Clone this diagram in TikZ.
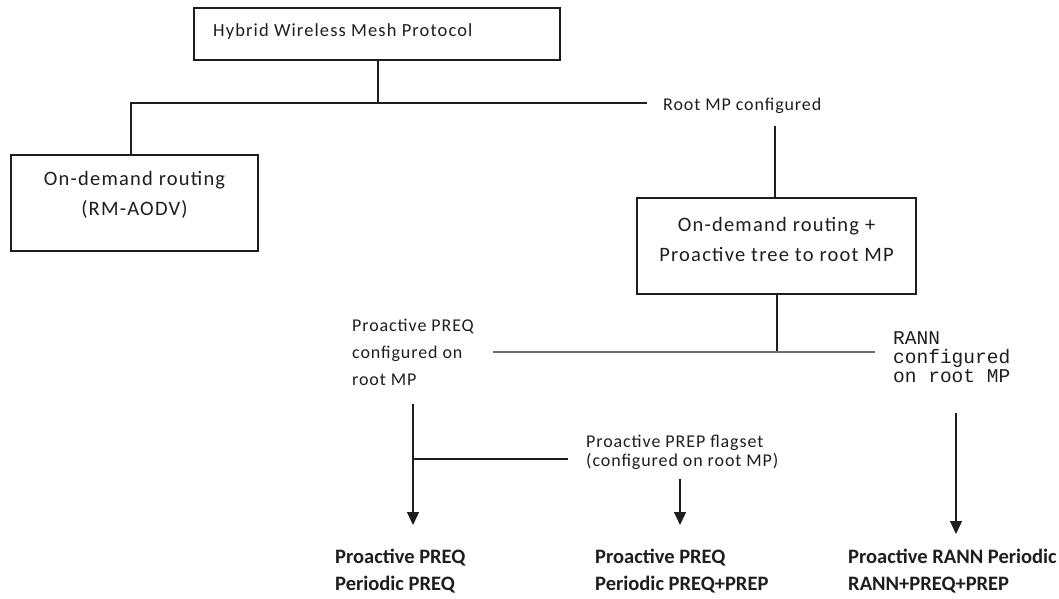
\documentclass[tikz,border=0pt]{standalone}
\usepackage{fontspec}
\setmainfont{Carlito}
\newfontfamily\boxfont[LetterSpace=6]{Carlito}
\newfontfamily\lblfont[LetterSpace=5]{Carlito}
\newfontfamily\codefont{Liberation Mono}
\usetikzlibrary{arrows.meta}
\definecolor{ink}{HTML}{1E1E1E}
\definecolor{busgray}{HTML}{6E6E6E}
\tikzset{
  frame/.style={draw=ink, line width=1.4pt, fill=white, inner sep=0pt},
  boxtext/.style={inner sep=0pt, align=center, font=\boxfont\fontsize{20.5}{30}\selectfont, text=ink},
  smalltext/.style={inner sep=0pt, align=left, font=\lblfont\fontsize{18}{27}\selectfont, text=ink},
  codetext/.style={inner sep=0pt, align=left, font=\codefont\fontsize{19.5}{19}\selectfont, text=ink},
  resulttext/.style={inner sep=0pt, align=left, font=\bfseries\fontsize{20.5}{27}\selectfont, text=ink},
  wire/.style={draw=ink, line width=1.3pt},
  bus/.style={draw=busgray, line width=2.4pt},
  arr/.style={draw=ink, line width=1.3pt, -{Triangle[length=13pt,width=12pt]}}
}
\begin{document}
\begin{tikzpicture}[x=1pt,y=-1pt]
\useasboundingbox (0,0) rectangle (1059,599);

% boxes
\node[frame, minimum width=366pt, minimum height=52pt] (hwmp) at (377,34) {};
\node[frame, minimum width=247pt, minimum height=96pt] (ondemand) at (134.5,203) {};
\node[frame, minimum width=279pt, minimum height=96pt] (proactive) at (776.5,246) {};

% box texts
\node[boxtext, anchor=west, font=\boxfont\fontsize{18.5}{30}\selectfont] (hwmptxt) at (213,32) {Hybrid Wireless Mesh Protocol};
\node[boxtext] (ondemandtxt) at (134.5,195) {On-demand routing\\(RM-AODV)};
\node[boxtext] (proactivetxt) at (776.5,239) {On-demand routing +\\Proactive tree to root MP};

% condition labels
\node[smalltext, anchor=west] (rootcfg) at (663,106) {Root MP configured};
\node[smalltext, anchor=west] (preqcfg) at (352,352) {Proactive PREQ\\configured on\\root MP};
\node[codetext, anchor=west] (ranncfg) at (893,357) {RANN\\configured\\on root MP};
\node[smalltext, anchor=west, font=\lblfont\fontsize{18}{19}\selectfont] (prepcfg) at (586,452.5) {Proactive PREP flagset\\(configured on root MP)};

% resulting modes
\node[resulttext, anchor=west] (res1) at (335,571) {Proactive PREQ\\Periodic PREQ};
\node[resulttext, anchor=west] (res2) at (595,571) {Proactive PREQ\\Periodic PREQ+PREP};
\node[resulttext, anchor=west] (res3) at (848,571) {Proactive RANN Periodic\\RANN+PREQ+PREP};

% junction points
\coordinate (split1) at (378,103);
\coordinate (split1end) at (647,103);
\coordinate (rootdrop) at (775,126);
\coordinate (split2) at (777,352);
\coordinate (bus2left) at (493,352);
\coordinate (bus2right) at (875,352);
\coordinate (preqtop) at (413,404);
\coordinate (preqtip) at (413,525);
\coordinate (prepjoin) at (413,459);
\coordinate (prepend) at (568,459);
\coordinate (preptop) at (680,479);
\coordinate (preptip) at (680,525);
\coordinate (ranntop) at (956,413);
\coordinate (ranntip) at (956,534);

% first split
\draw[wire] (hwmp.south -| split1) -- (split1);
\draw[wire] (ondemand.north -| 131,0) |- (split1end);
\draw[wire] (rootdrop) -- (proactive.north -| rootdrop);

% second split
\draw[wire] (proactive.south -| split2) -- (split2);
\draw[bus] (bus2left) -- (bus2right);

% result arrows
\draw[arr] (preqtop) -- (preqtip);
\draw[wire] (prepjoin) -- (prepend);
\draw[arr] (preptop) -- (preptip);
\draw[arr] (ranntop) -- (ranntip);
\end{tikzpicture}
\end{document}
